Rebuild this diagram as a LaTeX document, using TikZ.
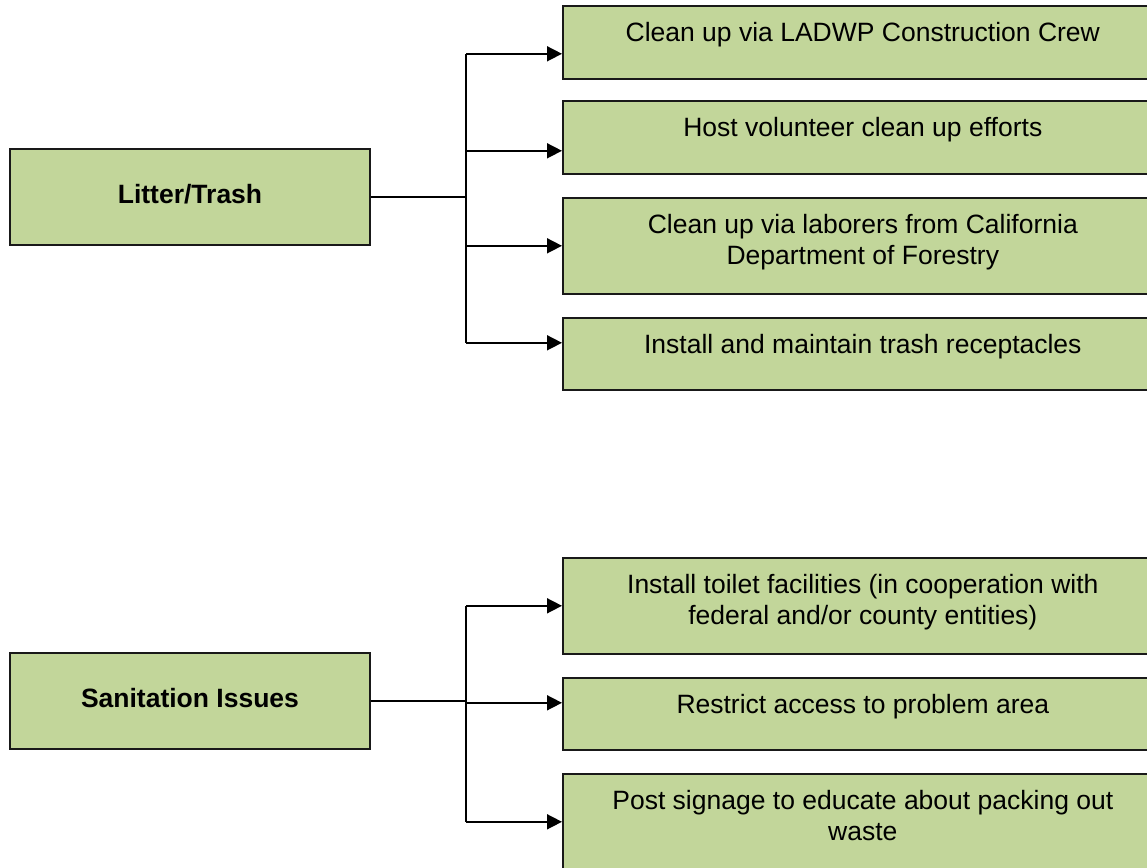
\documentclass[tikz,border=0pt]{standalone}
\usepackage{fontspec}
\setmainfont{Liberation Sans}
\usepackage{xcolor}
\usetikzlibrary{arrows.meta}
\definecolor{boxgreen}{RGB}{194,214,154}

\begin{document}
\begin{tikzpicture}[x=1pt,y=-1pt,font=\fontsize{26.5}{31}\selectfont,
  box/.style={draw=black!90,line width=1.6pt,fill=boxgreen,inner sep=0pt},
  cause/.style={box,minimum width=360pt,minimum height=96pt,text height=19pt,text depth=7pt,font=\fontsize{26.5}{31}\selectfont\bfseries},
  fix/.style={box,anchor=north west,minimum width=600pt},
  txt/.style={anchor=north,yshift=-17pt,align=center,inner sep=0pt},
  arr/.style={-{Triangle[length=15pt,width=15pt]},line width=1.6pt},
  link/.style={line width=1.6pt}]
  \clip (0,0) rectangle (1147,867);
  \fill[white] (0,0) rectangle (1147,867);

  % causes
  \node[cause] (lt) at (190,197) {Litter/Trash};
  \node[cause] (si) at (190,701) {Sanitation Issues};

  % responses to litter
  \node[fix,minimum height=73pt,label={[txt]north:Clean up via LADWP Construction Crew}] (lt1) at (562,5) {};
  \node[fix,minimum height=73pt,label={[txt]north:Host volunteer clean up efforts}] (lt2) at (562,100) {};
  \node[fix,minimum height=96pt,label={[txt]north:Clean up via laborers from California\\Department of Forestry}] (lt3) at (562,197) {};
  \node[fix,minimum height=72pt,label={[txt]north:Install and maintain trash receptacles}] (lt4) at (562,317) {};

  % responses to sanitation
  \node[fix,minimum height=96pt,label={[txt]north:Install toilet facilities (in cooperation with\\federal and/or county entities)}] (si1) at (562,557) {};
  \node[fix,minimum height=72pt,label={[txt]north:Restrict access to problem area}] (si2) at (562,677) {};
  \node[fix,minimum height=96pt,label={[txt]north:Post signage to educate about packing out\\waste}] (si3) at (562,773) {};

  % arrow ends on the boxes
  \coordinate (lt1in) at ([yshift=-11.5pt]lt1.west);
  \coordinate (lt2in) at ([yshift=-13.5pt]lt2.west);
  \coordinate (lt3in) at (lt3.west);
  \coordinate (lt4in) at ([yshift=11pt]lt4.west);
  \coordinate (si1in) at (si1.west);
  \coordinate (si2in) at ([yshift=11pt]si2.west);
  \coordinate (si3in) at (si3.west);
  \coordinate (ltj) at (466,197);
  \coordinate (sij) at (466,701);

  \draw[link] (lt.east) -- (ltj);
  \draw[link] (ltj |- lt1in) -- (ltj |- lt4in);
  \foreach \i in {1,...,4}{\draw[arr] (ltj |- lt\i in) -- (lt\i in);}

  \draw[link] (si.east) -- (sij);
  \draw[link] (sij |- si1in) -- (sij |- si3in);
  \foreach \i in {1,...,3}{\draw[arr] (sij |- si\i in) -- (si\i in);}
\end{tikzpicture}
\end{document}
